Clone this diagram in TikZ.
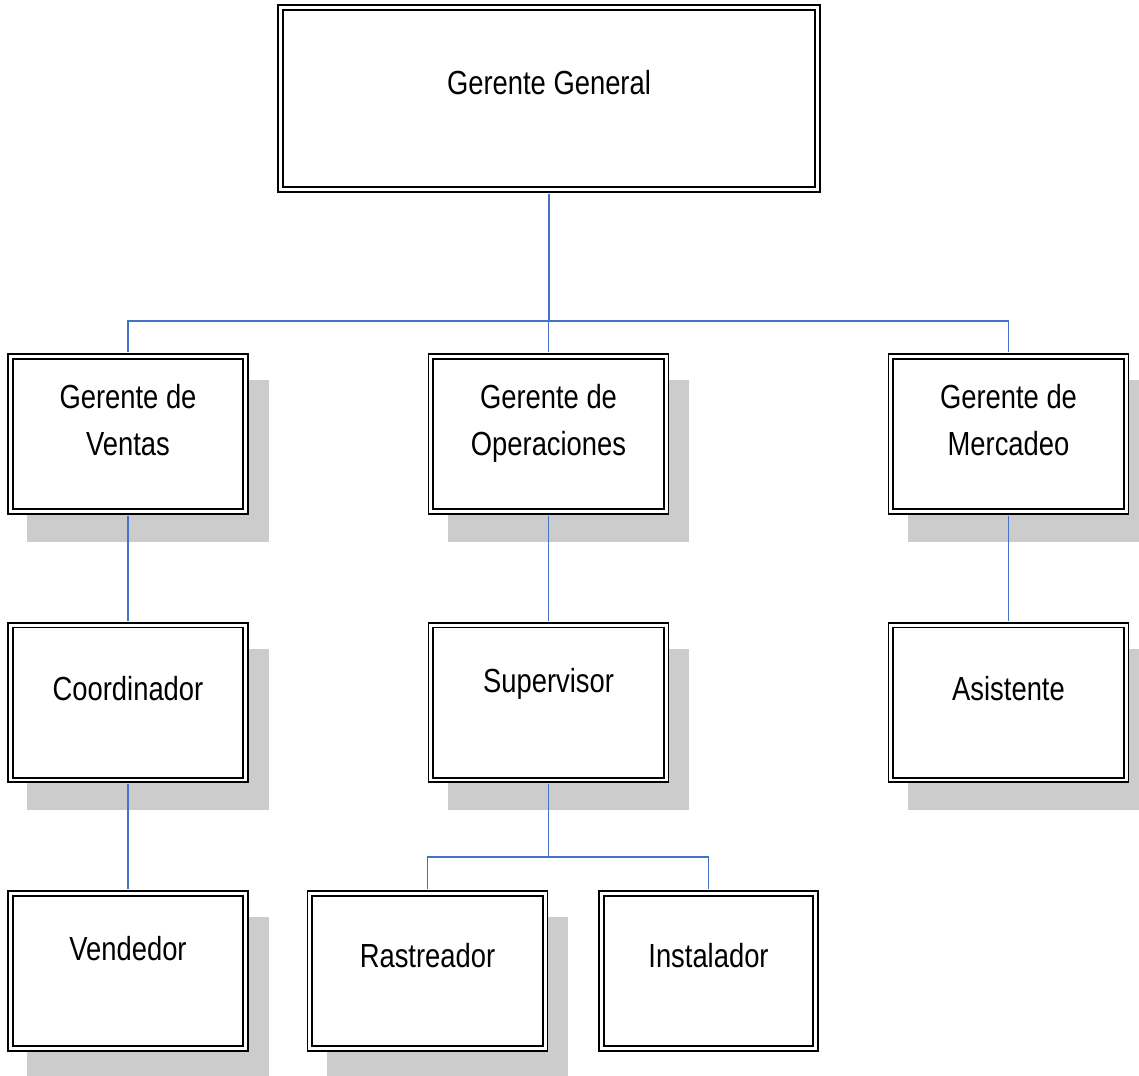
\documentclass[tikz,border=0pt]{standalone}
\usepackage{fontspec}
\setmainfont{Liberation Sans}[FakeStretch=0.82]
\usetikzlibrary{shadows}
\definecolor{azul}{RGB}{68,114,196}
\definecolor{sombra}{RGB}{204,204,204}
\tikzset{
  cargo/.style={draw,double,line width=1pt,double distance=1.7pt,fill=white,
    minimum width=4.71cm,minimum height=3.1cm,inner sep=0pt},
  consombra/.style={drop shadow={shadow xshift=0.4cm,shadow yshift=-0.54cm,
    fill=sombra,draw=sombra,line width=3.7pt,opacity=1}},
  texto/.style={font=\fontsize{19}{26.5}\selectfont,align=center,anchor=base,inner sep=0pt},
  linea/.style={draw=azul,line width=0.8pt}
}
\begin{document}
\begin{tikzpicture}[x=0.02cm,y=-0.02cm]
    \useasboundingbox (0,0) rectangle (1139,1075);
    % cajas
    \node[cargo,minimum width=10.75cm,minimum height=3.65cm] (general) at (549,98.5) {};
    \node[cargo,consombra] (ventas) at (128,434) {};
    \node[cargo,consombra] (operaciones) at (548.5,434) {};
    \node[cargo,consombra] (mercadeo) at (1008.5,434) {};
    \node[cargo,consombra] (coordinador) at (128,702.5) {};
    \node[cargo,consombra] (supervisor) at (548.5,702.5) {};
    \node[cargo,consombra] (asistente) at (1008.5,702.5) {};
    \node[cargo,consombra] (vendedor) at (128,971) {};
    \node[cargo,consombra] (rastreador) at (427.5,971) {};
    \node[cargo,minimum width=4.29cm] (instalador) at (708.5,971) {};
    % textos
    \node[texto] (t-general) at (549,94) {Gerente General};
    \node[texto] (t-ventas) at (128,455) {Gerente de\\Ventas};
    \node[texto] (t-operaciones) at (548.5,455) {Gerente de\\Operaciones};
    \node[texto] (t-mercadeo) at (1008.5,455) {Gerente de\\Mercadeo};
    \node[texto] (t-coordinador) at (128,700) {Coordinador};
    \node[texto] (t-supervisor) at (548.5,692) {Supervisor};
    \node[texto] (t-asistente) at (1008.5,700) {Asistente};
    \node[texto] (t-vendedor) at (128,960) {Vendedor};
    \node[texto] (t-rastreador) at (427.5,967) {Rastreador};
    \node[texto] (t-instalador) at (708.5,967) {Instalador};
    % lineas
    \coordinate (bus1) at (549,321);
    \coordinate (bus2) at (548.5,857);
    \draw[linea,shorten <=1.9pt] (general.south) -- (bus1);
    \draw[linea,shorten >=1.9pt] (bus1) -| (ventas.north);
    \draw[linea,shorten >=1.9pt] (bus1) -| (operaciones.north);
    \draw[linea,shorten >=1.9pt] (bus1) -| (mercadeo.north);
    \draw[linea,shorten <=1.9pt,shorten >=1.9pt] (ventas.south) -- (coordinador.north);
    \draw[linea,shorten <=1.9pt,shorten >=1.9pt] (operaciones.south) -- (supervisor.north);
    \draw[linea,shorten <=1.9pt,shorten >=1.9pt] (mercadeo.south) -- (asistente.north);
    \draw[linea,shorten <=1.9pt,shorten >=1.9pt] (coordinador.south) -- (vendedor.north);
    \draw[linea,shorten <=1.9pt] (supervisor.south) -- (bus2);
    \draw[linea,shorten >=1.9pt] (bus2) -| (rastreador.north);
    \draw[linea,shorten >=1.9pt] (bus2) -| (instalador.north);
\end{tikzpicture}
\end{document}
